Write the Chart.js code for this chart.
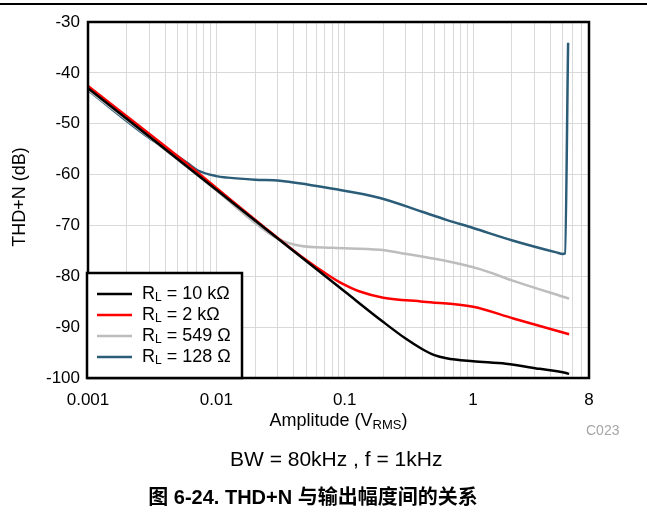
<!DOCTYPE html>
<html>
<head>
<meta charset="utf-8">
<script src="https://cdn.jsdelivr.net/npm/chart.js@4"></script>
<style>
  body { margin: 0; background: #fff; }
  canvas { display: block; }
</style>
</head>
<body>
<canvas id="chart" width="647" height="516"></canvas>
<script>
// values
const rl10kX = [0.001, 0.01, 0.1, 0.2, 0.3, 0.4, 0.5, 0.62, 1.0, 1.8, 3.3, 5.3, 5.6];
const rl10kY = [-43.0, -63.0, -83.0, -89.0, -92.3, -94.3, -95.5, -96.1, -96.7, -97.2, -98.2, -99.0, -99.2];

const rl2kX = [0.001, 0.006, 0.0123, 0.0225, 0.0448, 0.0767, 0.0918, 0.131, 0.2, 0.41, 1.0, 2.06, 5.6];
const rl2kY = [-42.6, -58.0, -64.5, -69.9, -75.9, -80.0, -81.2, -83.0, -84.2, -85.0, -86.0, -88.3, -91.4];

const rl549X = [0.001, 0.01, 0.0212, 0.03, 0.0448, 0.081, 0.188, 0.27, 0.62, 1.13, 2.06, 5.6];
const rl549Y = [-43.3, -63.1, -70.0, -72.6, -74.0, -74.4, -74.8, -75.4, -77.0, -78.6, -80.9, -84.4];

const rl128X = [0.001, 0.003, 0.0045, 0.006, 0.0072, 0.01, 0.0123, 0.02, 0.0313, 0.081, 0.188, 0.4, 0.62, 1.0, 2.06, 4.46, 5.0, 5.2, 5.5];
const rl128Y = [-43.4, -52.8, -55.6, -57.8, -59.2, -60.3, -60.6, -61.0, -61.2, -62.8, -64.6, -67.3, -68.9, -70.5, -73.0, -75.3, -75.6, -75.5, -34.1];

const seriesNames = ['10 k\u03A9', '2 k\u03A9', '549 \u03A9', '128 \u03A9'];
const seriesColors = ['#000000', '#ff0000', '#bdbdbd', '#2b5d78'];

const xTickValues = [0.001, 0.01, 0.1, 1, 8];
const xTickLabels = ['0.001', '0.01', '0.1', '1', '8'];
const yMin = -100, yMax = -30, yStep = 10;

const FONT = '"Liberation Sans", Arial, sans-serif';

// grid lines at every 1..9 of each decade, up to 8
const gridValues = [];
for (let m = 0.001; m < 5; m *= 10) {
  for (let d = 1; d <= 9; d++) {
    const v = +(d * m).toPrecision(3);
    if (v <= 8) gridValues.push(v);
  }
}

const toPoints = (xs, ys) => xs.map((x, i) => ({ x: x, y: ys[i] }));
const allData = [
  toPoints(rl10kX, rl10kY),
  toPoints(rl2kX, rl2kY),
  toPoints(rl549X, rl549Y),
  toPoints(rl128X, rl128Y)
];

function drawSubText(ctx, x, y, main, sub, rest, size, subSize) {
  ctx.font = size + 'px ' + FONT;
  ctx.fillText(main, x, y);
  x += ctx.measureText(main).width;
  ctx.font = subSize + 'px ' + FONT;
  ctx.fillText(sub, x, y + size * 0.22);
  x += ctx.measureText(sub).width;
  ctx.font = size + 'px ' + FONT;
  ctx.fillText(rest, x, y);
  return x + ctx.measureText(rest).width;
}

const extras = {
  id: 'extras',
  afterDraw(chart) {
    const ctx = chart.ctx;
    const a = chart.chartArea;
    ctx.save();

    // top rule
    ctx.fillStyle = '#000';
    ctx.fillRect(0, 3, 647, 2);

    // plot frame
    ctx.strokeStyle = '#000';
    ctx.lineWidth = 2.5;
    ctx.strokeRect(a.left, a.top, a.right - a.left, a.bottom - a.top);

    // legend box
    const lx = 87, ly = 273, lw = 155, lh = 105;
    ctx.fillStyle = '#fff';
    ctx.fillRect(lx, ly, lw, lh);
    ctx.lineWidth = 2.5;
    ctx.strokeRect(lx, ly, lw, lh);
    const rows = [294, 315, 336, 357];
    ctx.textBaseline = 'middle';
    ctx.textAlign = 'left';
    rows.forEach((ry, i) => {
      ctx.strokeStyle = seriesColors[i];
      ctx.lineWidth = 2.5;
      ctx.beginPath();
      ctx.moveTo(97, ry);
      ctx.lineTo(132, ry);
      ctx.stroke();
      ctx.fillStyle = '#000';
      drawSubText(ctx, 142, ry, 'R', 'L', ' = ' + seriesNames[i], 18, 12);
    });

    // x axis title with subscript
    ctx.fillStyle = '#000';
    ctx.textBaseline = 'middle';
    const t1 = 'Amplitude (V';
    ctx.font = '13px ' + FONT;
    const wSub = ctx.measureText('RMS').width;
    ctx.font = '18px ' + FONT;
    const wTot = ctx.measureText(t1).width + wSub + ctx.measureText(')').width;
    const cx = (a.left + a.right) / 2;
    drawSubText(ctx, cx - wTot / 2, 421, t1, 'RMS', ')', 18, 13);

    // y axis title
    ctx.save();
    ctx.translate(20, (a.top + a.bottom) / 2 - 3);
    ctx.rotate(-Math.PI / 2);
    ctx.textAlign = 'center';
    ctx.font = '18px ' + FONT;
    ctx.fillText('THD+N (dB)', 0, 0);
    ctx.restore();

    // chart code
    ctx.textAlign = 'left';
    ctx.fillStyle = '#a6a6a6';
    ctx.font = '14px ' + FONT;
    ctx.fillText('C023', 586, 431);

    // conditions
    ctx.fillStyle = '#000';
    ctx.font = '21px ' + FONT;
    ctx.fillText('BW = 80kHz , f = 1kHz', 230, 460);

    // caption
    ctx.textAlign = 'center';
    ctx.font = 'bold 20px ' + FONT + ', "Noto Sans CJK SC"';
    ctx.fillText('图 6-24. THD+N 与输出幅度间的关系', 313, 498);

    ctx.restore();
  }
};

new Chart(document.getElementById('chart'), {
  type: 'line',
  data: {
    datasets: allData.map((pts, i) => ({
      label: 'RL = ' + seriesNames[i],
      data: pts,
      borderColor: seriesColors[i],
      backgroundColor: seriesColors[i],
      borderWidth: 2.5,
      pointRadius: 0,
      fill: false,
      cubicInterpolationMode: 'monotone'
    }))
  },
  options: {
    responsive: false,
    animation: false,
    layout: { padding: { top: 22, right: 58, left: 0, bottom: 0 } },
    plugins: {
      legend: { display: false },
      tooltip: { enabled: false }
    },
    scales: {
      x: {
        type: 'logarithmic',
        min: 0.001,
        max: 8,
        afterBuildTicks: (scale) => {
          scale.ticks = gridValues.map(v => ({ value: v }));
        },
        afterFit: (scale) => { scale.height = 138; },
        ticks: {
          autoSkip: false,
          maxRotation: 0,
          padding: 12,
          color: '#000',
          font: { family: FONT, size: 17 },
          callback: (v) => {
            const k = xTickValues.findIndex(t => Math.abs(t - v) / t < 1e-6);
            return k >= 0 ? xTickLabels[k] : '';
          }
        },
        grid: { color: '#d9d9d9', lineWidth: 1, drawTicks: false },
        border: { display: false }
      },
      y: {
        min: yMin,
        max: yMax,
        afterFit: (scale) => { scale.width = 88; },
        ticks: {
          stepSize: yStep,
          padding: 8,
          color: '#000',
          font: { family: FONT, size: 17 }
        },
        grid: { color: '#d9d9d9', lineWidth: 1, drawTicks: false },
        border: { display: false }
      }
    }
  },
  plugins: [extras]
});
</script>
</body>
</html>
